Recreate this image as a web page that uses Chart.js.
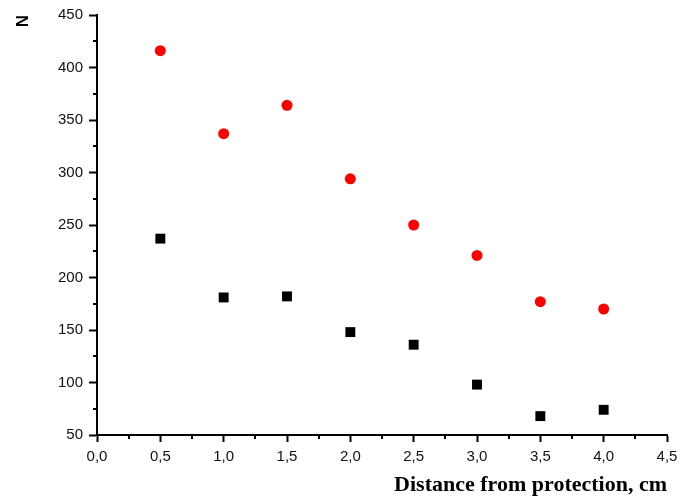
<!DOCTYPE html>
<html>
<head>
<meta charset="utf-8">
<script src="https://cdn.jsdelivr.net/npm/chart.js@4"></script>
<style>
  html, body { margin: 0; padding: 0; background: #fff; }
  #wrap { width: 688px; height: 501px; }
</style>
</head>
<body>
<div id="wrap"><canvas id="scatterChart" width="688" height="501"></canvas></div>
<script>
// values
const distances = [0.5, 1.0, 1.5, 2.0, 2.5, 3.0, 3.5, 4.0];
const redSeries = [416, 337, 364, 294, 250, 221, 177, 170];
const blackSeries = [237, 181, 182, 148, 136, 98, 68, 74];
const xTicks = [0, 0.5, 1.0, 1.5, 2.0, 2.5, 3.0, 3.5, 4.0, 4.5];
const yTicks = [50, 100, 150, 200, 250, 300, 350, 400, 450];

function toPoints(xs, ys) {
  return xs.map((x, i) => ({ x: x, y: ys[i] }));
}

// short minor ticks halfway between the major ones
const minorTicks = {
  id: "minorTicks",
  afterDraw(chart) {
    const ctx = chart.ctx;
    const xs = chart.scales.x;
    const ys = chart.scales.y;
    ctx.save();
    ctx.strokeStyle = "#000";
    ctx.lineWidth = 2;
    ctx.beginPath();
    for (let i = 0; i < xTicks.length - 1; i++) {
      const px = Math.round(xs.getPixelForValue((xTicks[i] + xTicks[i + 1]) / 2));
      ctx.moveTo(px, xs.top);
      ctx.lineTo(px, xs.top + 4);
    }
    for (let i = 0; i < yTicks.length - 1; i++) {
      const py = Math.round(ys.getPixelForValue((yTicks[i] + yTicks[i + 1]) / 2));
      ctx.moveTo(ys.right, py);
      ctx.lineTo(ys.right - 4, py);
    }
    ctx.stroke();
    ctx.restore();
  }
};

const ctx = document.getElementById("scatterChart").getContext("2d");

new Chart(ctx, {
  type: "scatter",
  data: {
    datasets: [{
      label: "red",
      data: toPoints(distances, redSeries),
      pointStyle: "circle",
      pointRadius: 5.5,
      pointHoverRadius: 5.5,
      backgroundColor: "#ff0000",
      borderColor: "#ff0000",
      borderWidth: 0
    }, {
      label: "black",
      data: toPoints(distances, blackSeries),
      pointStyle: "rect",
      pointRadius: 7,
      pointHoverRadius: 7,
      backgroundColor: "#000",
      borderColor: "#000",
      borderWidth: 0
    }]
  },
  options: {
    responsive: false,
    animation: false,
    events: [],
    layout: { padding: { left: 13, right: 21, top: 15, bottom: 2 } },
    plugins: {
      legend: { display: false },
      tooltip: { enabled: false }
    },
    scales: {
      x: {
        type: "linear",
        min: 0,
        max: 4.5,
        afterBuildTicks: s => { s.ticks = xTicks.map(v => ({ value: v })); },
        afterFit: s => { s.height = 64; },
        ticks: {
          color: "#111",
          font: { family: "Liberation Sans", size: 15 },
          padding: 6,
          maxRotation: 0,
          callback: v => v.toFixed(1).replace(".", ",")
        },
        grid: { drawOnChartArea: false, drawTicks: true, tickLength: 7, tickColor: "#000", tickWidth: 2 },
        border: { color: "#000", width: 2 },
        title: {
          display: true,
          align: "end",
          text: "Distance from protection, cm",
          color: "#000",
          font: { family: "Liberation Serif", size: 22, weight: "bold" },
          padding: { top: 9, bottom: 0 }
        }
      },
      y: {
        type: "linear",
        min: 50,
        max: 450,
        afterBuildTicks: s => { s.ticks = yTicks.map(v => ({ value: v })); },
        afterFit: s => { s.width = 84; },
        ticks: {
          color: "#111",
          font: { family: "Liberation Sans", size: 15 },
          padding: 6
        },
        grid: { drawOnChartArea: false, drawTicks: true, tickLength: 8, tickColor: "#000", tickWidth: 2 },
        border: { color: "#000", width: 2 },
        title: {
          display: true,
          align: "end",
          text: "N",
          color: "#000",
          font: { family: "Liberation Sans", size: 17, weight: "bold" },
          padding: { top: 0, bottom: 0 }
        }
      }
    }
  },
  plugins: [minorTicks]
});
</script>
</body>
</html>
